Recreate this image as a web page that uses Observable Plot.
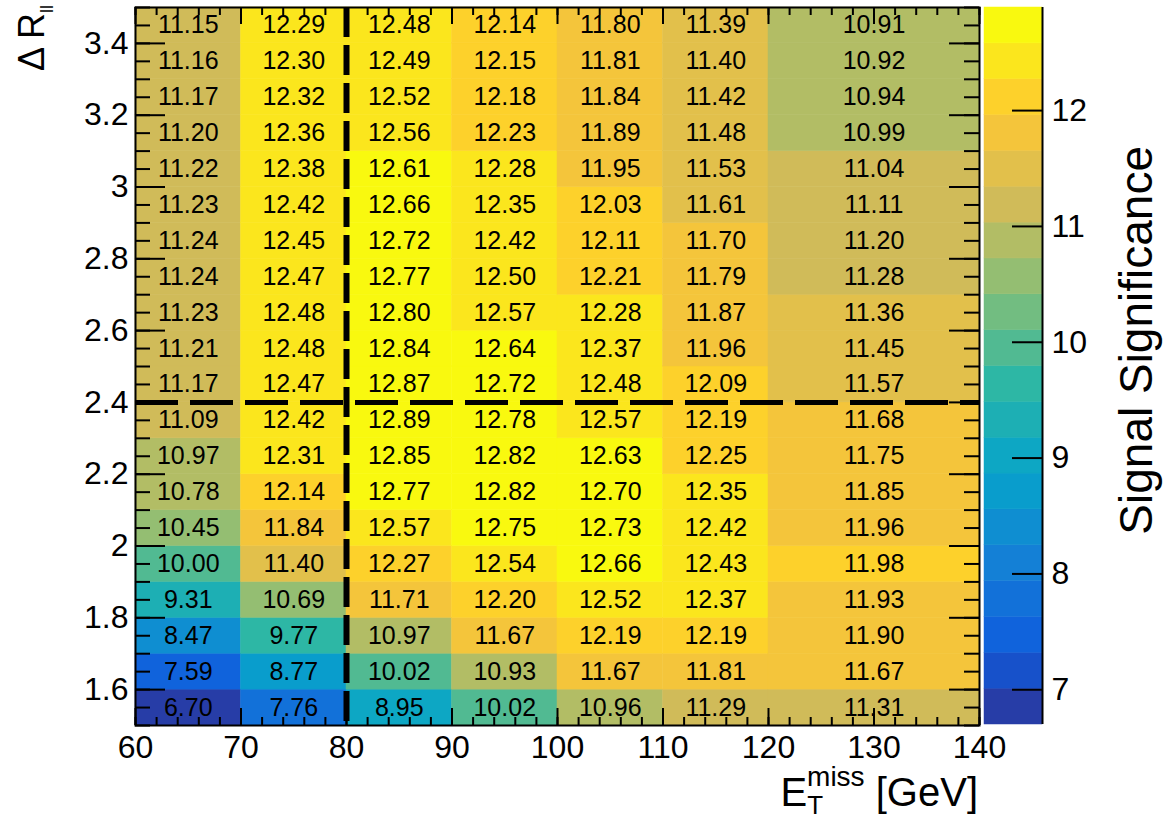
<!DOCTYPE html>
<html>
<head>
<meta charset="utf-8">
<script src="https://cdn.jsdelivr.net/npm/d3@7"></script>
<script src="https://cdn.jsdelivr.net/npm/@observablehq/plot@0.6"></script>
<style>
  body { margin: 0; background: #fff; }
  #wrap { position: relative; width: 1163px; height: 822px; }
  #wrap svg { position: absolute; left: 0; top: 0; }
</style>
</head>
<body>
<div id="wrap"></div>
<script>
// ---- data ----
const etEdges = [60, 70, 80, 90, 100, 110, 120, 140];
const drEdges = [1.5, 1.6, 1.7, 1.8, 1.9, 2.0, 2.1, 2.2, 2.3, 2.4, 2.5, 2.6, 2.7, 2.8, 2.9, 3.0, 3.1, 3.2, 3.3, 3.4, 3.5];
// significance per E_T^miss bin, listed from ΔR = 1.5 (bottom) to 3.5 (top)
const sig60  = [6.70, 7.59, 8.47, 9.31, 10.00, 10.45, 10.78, 10.97, 11.09, 11.17, 11.21, 11.23, 11.24, 11.24, 11.23, 11.22, 11.20, 11.17, 11.16, 11.15];
const sig70  = [7.76, 8.77, 9.77, 10.69, 11.40, 11.84, 12.14, 12.31, 12.42, 12.47, 12.48, 12.48, 12.47, 12.45, 12.42, 12.38, 12.36, 12.32, 12.30, 12.29];
const sig80  = [8.95, 10.02, 10.97, 11.71, 12.27, 12.57, 12.77, 12.85, 12.89, 12.87, 12.84, 12.80, 12.77, 12.72, 12.66, 12.61, 12.56, 12.52, 12.49, 12.48];
const sig90  = [10.02, 10.93, 11.67, 12.20, 12.54, 12.75, 12.82, 12.82, 12.78, 12.72, 12.64, 12.57, 12.50, 12.42, 12.35, 12.28, 12.23, 12.18, 12.15, 12.14];
const sig100 = [10.96, 11.67, 12.19, 12.52, 12.66, 12.73, 12.70, 12.63, 12.57, 12.48, 12.37, 12.28, 12.21, 12.11, 12.03, 11.95, 11.89, 11.84, 11.81, 11.80];
const sig110 = [11.29, 11.81, 12.19, 12.37, 12.43, 12.42, 12.35, 12.25, 12.19, 12.09, 11.96, 11.87, 11.79, 11.70, 11.61, 11.53, 11.48, 11.42, 11.40, 11.39];
const sig120 = [11.31, 11.67, 11.90, 11.93, 11.98, 11.96, 11.85, 11.75, 11.68, 11.57, 11.45, 11.36, 11.28, 11.20, 11.11, 11.04, 10.99, 10.94, 10.92, 10.91];
const xTicks = [60, 70, 80, 90, 100, 110, 120, 130, 140];
const yTicks = [1.6, 1.8, 2, 2.2, 2.4, 2.6, 2.8, 3, 3.2, 3.4];
const zTicks = [7, 8, 9, 10, 11, 12];
const cutET = [80];
const cutDR = [2.4];
const nLevels = 20;
// ROOT kBird palette
const birdStops = [0.0000, 0.1250, 0.2500, 0.3750, 0.5000, 0.6250, 0.7500, 0.8750, 1.0000];
const birdR = [0.2082, 0.0592, 0.0780, 0.0232, 0.1802, 0.5301, 0.8186, 0.9956, 0.9764];
const birdG = [0.1664, 0.3599, 0.5041, 0.6419, 0.7178, 0.7492, 0.7328, 0.7862, 0.9832];
const birdB = [0.5293, 0.8684, 0.8385, 0.7914, 0.6425, 0.4662, 0.3499, 0.1968, 0.0539];

// ---- build ----
const columns = [sig60, sig70, sig80, sig90, sig100, sig110, sig120];
const cells = [];
columns.forEach((col, c) => col.forEach((z, r) => cells.push({
  x1: etEdges[c], x2: etEdges[c + 1], y1: drEdges[r], y2: drEdges[r + 1], z
})));
const zmin = d3.min(cells, d => d.z), zmax = d3.max(cells, d => d.z);
const step = (zmax - zmin) / nLevels;
const thresholds = d3.range(1, nLevels).map(i => zmin + i * step);
const bird = d3.scaleLinear().domain(birdStops)
  .range(birdStops.map((s, i) => d3.rgb(birdR[i] * 255, birdG[i] * 255, birdB[i] * 255).toString()))
  .interpolate(d3.interpolateRgb);
const colors = d3.range(nLevels).map(i => bird(Math.min(254, Math.floor((i + 0.99) * 255 / nLevels)) / 255));
const colorScale = {type: "threshold", domain: thresholds, range: colors};
const bands = d3.range(nLevels).map(i => ({y1: zmin + i * step, y2: zmin + (i + 1) * step, v: zmin + (i + 0.5) * step}));

const FONT = "'Liberation Sans', Arial, Helvetica, sans-serif";
const W = 1163, H = 822;
const mL = 135, mR = W - 979, mT = 7, mB = H - 725;
const FW = W - mL - mR, FH = H - mT - mB;
const xMinor = d3.range(60, 140.001, 2);
const yMinor = d3.range(0, 41).map(i => 1.5 + i * 0.05);
const tk = {stroke: "black", strokeWidth: 2};

const main = Plot.plot({
  width: W, height: H,
  marginLeft: mL, marginRight: mR, marginTop: mT, marginBottom: mB,
  style: {fontFamily: FONT, background: "transparent"},
  x: {domain: [60, 140], label: null},
  y: {domain: [1.5, 3.5], label: null},
  color: colorScale,
  marks: [
    Plot.rect(cells, {x1: "x1", x2: "x2", y1: "y1", y2: "y2", fill: "z", stroke: "z", strokeWidth: 0.5}),
    Plot.text(cells, {x: d => (d.x1 + d.x2) / 2, y: d => (d.y1 + d.y2) / 2, text: d => d.z.toFixed(2),
      fontSize: 25, fill: "black", fontFamily: FONT}),
    Plot.ruleX(cutET, {stroke: "black", strokeWidth: 6, strokeDasharray: "30,8"}),
    Plot.ruleY(cutDR, {stroke: "black", strokeWidth: 5, strokeDasharray: "43,12"}),
    Plot.ruleX(xMinor, {...tk, insetTop: FH - 8}),
    Plot.ruleX(xMinor, {...tk, insetBottom: FH - 8}),
    Plot.ruleX(xTicks, {...tk, insetTop: FH - 17}),
    Plot.ruleX(xTicks, {...tk, insetBottom: FH - 17}),
    Plot.ruleY(yMinor, {...tk, insetRight: FW - 15}),
    Plot.ruleY(yMinor, {...tk, insetLeft: FW - 15}),
    Plot.ruleY(yTicks, {...tk, insetRight: FW - 30}),
    Plot.ruleY(yTicks, {...tk, insetLeft: FW - 30}),
    Plot.frame({stroke: "black", strokeWidth: 2}),
    Plot.axisX(xTicks, {tickSize: 0, tickPadding: 10, fontSize: 32, fontFamily: FONT, tickFormat: d => String(d), label: null}),
    Plot.axisY(yTicks, {tickSize: 0, tickPadding: 7, fontSize: 32, fontFamily: FONT, tickFormat: d => String(d), label: null})
  ]
});

const cbL = 984, cbR = 1042;
const bar = Plot.plot({
  width: W, height: H,
  marginLeft: cbL, marginRight: W - cbR, marginTop: 7, marginBottom: H - 724,
  style: {fontFamily: FONT, background: "transparent"},
  x: {domain: [0, 1], axis: null},
  y: {domain: [zmin, zmax], label: null},
  color: colorScale,
  marks: [
    Plot.rect(bands, {x1: () => 0, x2: () => 1, y1: "y1", y2: "y2", fill: "v", stroke: "v", strokeWidth: 0.5}),
    Plot.ruleX([1], {stroke: "black", strokeWidth: 2}),
    Plot.ruleY(zTicks, {stroke: "black", strokeWidth: 2, insetLeft: 28}),
    Plot.axisY(zTicks, {anchor: "right", tickSize: 0, tickPadding: 9, fontSize: 32, fontFamily: FONT, tickFormat: d => String(d), label: null})
  ]
});

const wrap = document.getElementById("wrap");
wrap.appendChild(main);
wrap.appendChild(bar);

// axis titles (ROOT-style with sub/superscripts)
const s = d3.select(bar);
const xt = s.append("text").attr("x", 978).attr("y", 806).attr("text-anchor", "end")
  .attr("font-family", FONT).attr("font-size", 40).attr("fill", "black");
xt.append("tspan").text("E");
xt.append("tspan").attr("font-size", 26).attr("dy", 8).text("T");
xt.append("tspan").attr("font-size", 28).attr("dx", -16).attr("dy", -28).text("miss");
xt.append("tspan").attr("dy", 20).text(" [GeV]");

const yt = s.append("text").attr("transform", "translate(44,5) rotate(-90)").attr("text-anchor", "end")
  .attr("font-family", FONT).attr("font-size", 36).attr("fill", "black");
yt.append("tspan").text("Δ R");
yt.append("tspan").attr("font-size", 18).attr("dy", 9).text("ll");

s.append("text").attr("transform", "translate(1152,146) rotate(-90)").attr("text-anchor", "end")
  .attr("font-family", FONT).attr("font-size", 46).attr("fill", "black").text("Signal Significance");
</script>
</body>
</html>
